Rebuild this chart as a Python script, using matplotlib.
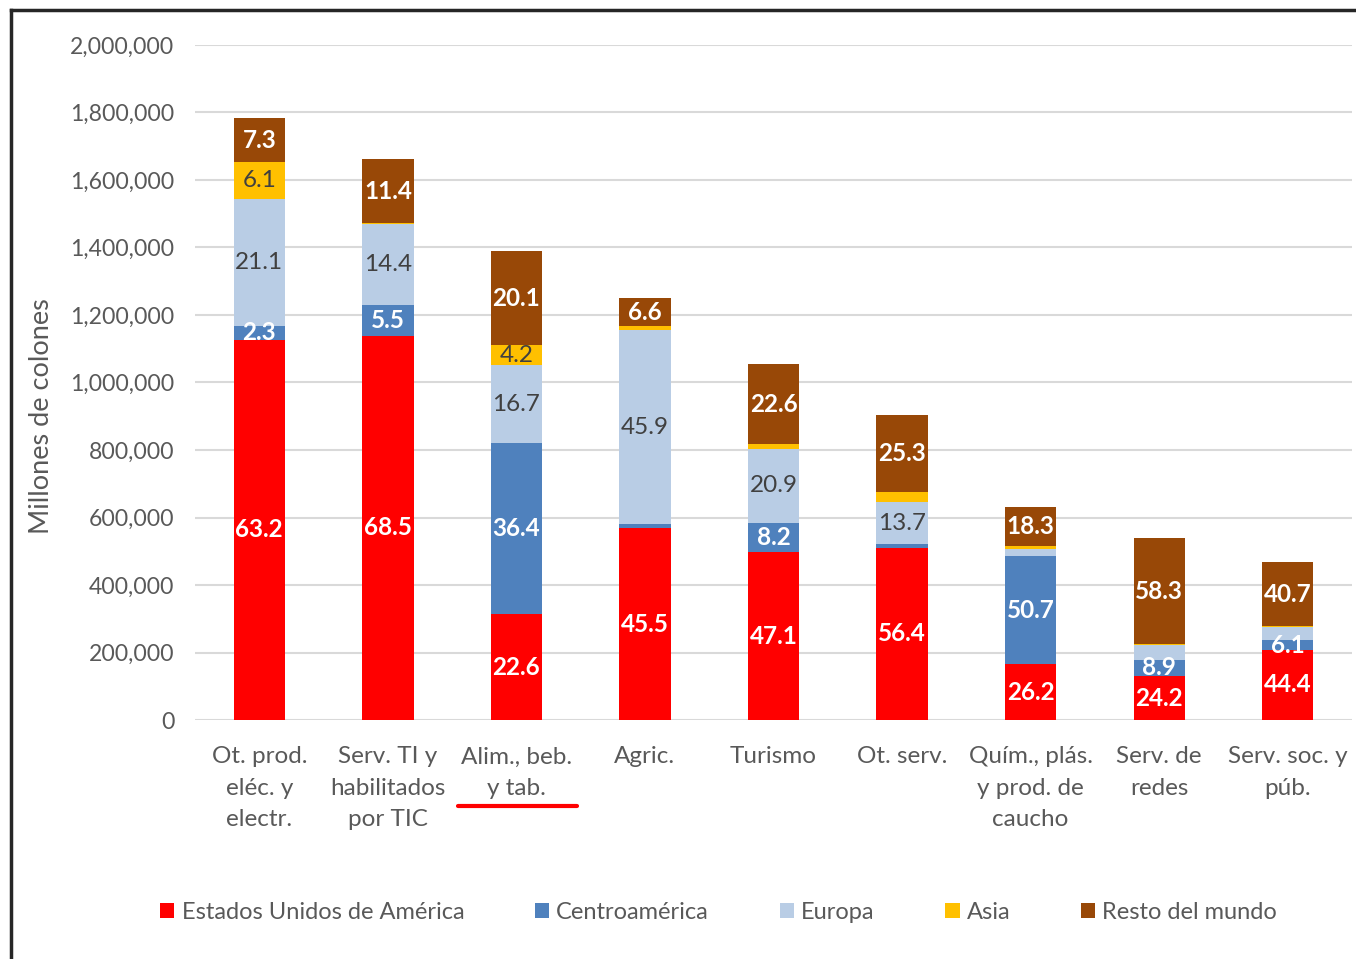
import matplotlib.pyplot as plt
from matplotlib.lines import Line2D
import numpy as np

plt.rcParams['font.family'] = ['Lato', 'DejaVu Sans']

# data
sectores = ["Ot. prod.\neléc. y\nelectr.", "Serv. TI y\nhabilitados\npor TIC",
            "Alim., beb.\ny tab.", "Agric.", "Turismo", "Ot. serv.",
            "Quím., plás.\ny prod. de\ncaucho", "Serv. de\nredes", "Serv. soc. y\npúb."]
totales = [1783000, 1662000, 1390000, 1250000, 1055000, 904000, 631000, 539000, 468000]

regiones = ["Estados Unidos de América", "Centroamérica", "Europa", "Asia", "Resto del mundo"]
pct_eeuu = [63.2, 68.5, 22.6, 45.5, 47.1, 56.4, 26.2, 24.2, 44.4]
pct_centro = [2.3, 5.5, 36.4, 1.0, 8.2, 1.2, 50.7, 8.9, 6.1]
pct_europa = [21.1, 14.4, 16.7, 45.9, 20.9, 13.7, 3.5, 8.2, 8.2]
pct_asia = [6.1, 0.2, 4.2, 1.0, 1.2, 3.4, 1.3, 0.4, 0.6]
pct_resto = [7.3, 11.4, 20.1, 6.6, 22.6, 25.3, 18.3, 58.3, 40.7]

# which shares carry a label in the original
lab_eeuu = [True] * 9
lab_centro = [True, True, True, False, True, False, True, True, True]
lab_europa = [True, True, True, True, True, True, False, False, False]
lab_asia = [True, False, True, False, False, False, False, False, False]
lab_resto = [True] * 9

colores = ["#FF0000", "#4F81BD", "#B9CDE5", "#FFC000", "#984807"]
col_texto = ["white", "white", "#404040", "#404040", "white"]
peso_texto = ["bold", "bold", "normal", "normal", "bold"]

pcts = [pct_eeuu, pct_centro, pct_europa, pct_asia, pct_resto]
labs = [lab_eeuu, lab_centro, lab_europa, lab_asia, lab_resto]

fig = plt.figure(figsize=(13.56, 9.59), dpi=100)
ax = fig.add_axes([0.1438, 0.2492, 0.8533, 0.7039])

x = np.arange(len(sectores))
tot = np.array(totales, dtype=float)
base = np.zeros(len(sectores))
for k in range(len(regiones)):
    vals = tot * np.array(pcts[k]) / 100.0
    ax.bar(x, vals, 0.40, bottom=base, color=colores[k], label=regiones[k], zorder=3)
    for i in range(len(sectores)):
        if labs[k][i]:
            ax.text(x[i], base[i] + vals[i] / 2, "%.1f" % pcts[k][i], ha="center", va="center",
                    color=col_texto[k], fontweight=peso_texto[k], fontsize=17.5, zorder=4)
    base = base + vals

ax.set_xlim(-0.5, 8.5)
ax.set_ylim(0, 2000000)
ax.set_yticks(np.arange(0, 2000001, 200000))
ax.set_yticklabels(["{:,}".format(v) for v in range(0, 2000001, 200000)])
ax.yaxis.grid(True, color="#D9D9D9", linewidth=1.5, zorder=0)
for s in ax.spines.values():
    s.set_visible(False)
ax.tick_params(axis="y", length=0, pad=15, labelsize=16.6, labelcolor="#595959")
ax.tick_params(axis="x", length=0, pad=19, labelsize=17.5, labelcolor="#595959")
ax.set_xticks(x)
ax.set_xticklabels(sectores, linespacing=1.62)
ax.set_ylabel("Millones de colones", fontsize=19.5, color="#595959")
ax.yaxis.set_label_coords(-0.122, 0.45)

fig.legend(loc="center", bbox_to_anchor=(0.530, 0.049), ncol=5, frameon=False,
           fontsize=17, handlelength=0.6, handleheight=0.6, handletextpad=0.3,
           columnspacing=3.0, labelcolor="#595959")

# frame of the screenshot and the red underline
fig.add_artist(Line2D([11 / 1356, 11 / 1356], [0, 1 - 10 / 959], color="#262626", lw=2.5))
fig.add_artist(Line2D([11 / 1356, 1], [1 - 10 / 959, 1 - 10 / 959], color="#262626", lw=2.5))
fig.add_artist(Line2D([458 / 1356, 577 / 1356], [1 - 806 / 959, 1 - 806 / 959],
                      color="#FF0000", lw=3, solid_capstyle="round"))

fig.savefig("out.png", dpi=100)
